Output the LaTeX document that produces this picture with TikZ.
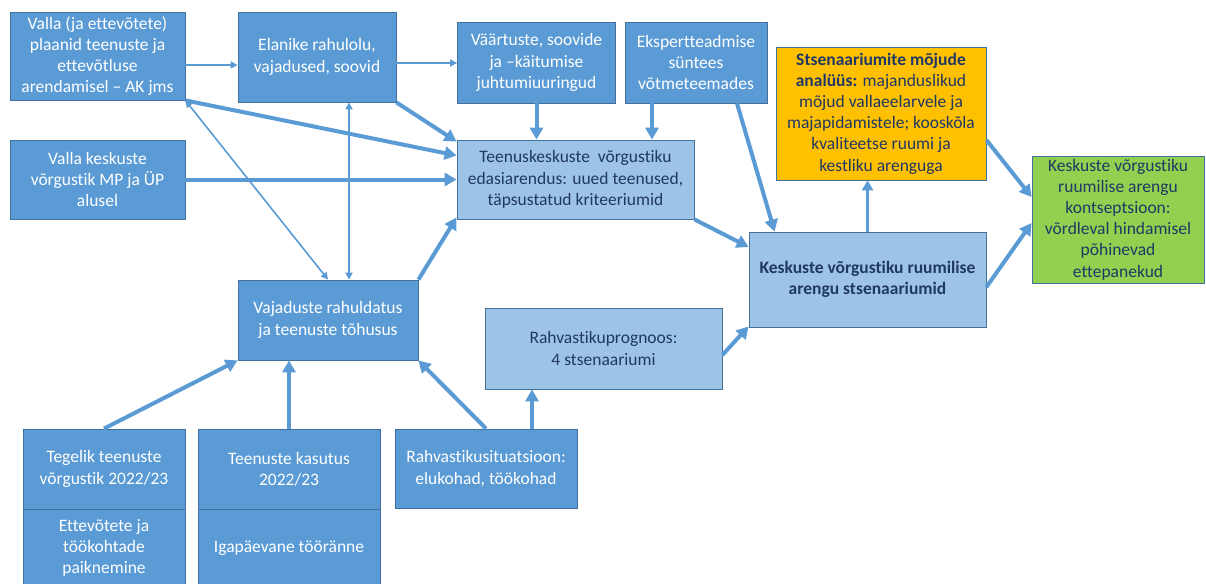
\documentclass[tikz,border=0pt]{standalone}
\usepackage{fontspec}
\setmainfont{Carlito}[Ligatures=NoCommon]
\usetikzlibrary{arrows.meta}
\definecolor{dblue}{HTML}{5B9BD5}
\definecolor{lblue}{HTML}{9DC3E6}
\definecolor{bord}{HTML}{41719C}
\definecolor{navy}{HTML}{1F3864}
\definecolor{orng}{HTML}{FFC000}
\definecolor{grn}{HTML}{92D050}
\definecolor{arr}{HTML}{5B9BD5}
\begin{document}
\begin{tikzpicture}[x=1pt,y=-1pt,
  base/.style={draw=bord, line width=0.8pt, inner sep=0pt, align=center,
    font=\fontsize{17.5}{21.2}\selectfont},
  dbox/.style={base, fill=dblue, text=white},
  lbox/.style={base, fill=lblue, text=navy},
  obox/.style={base, fill=orng, text=navy},
  gbox/.style={base, fill=grn, text=navy},
  thick arrow/.style={draw=arr, line width=4pt, -{Triangle[length=12pt,width=13pt]}},
  mid arrow/.style={draw=arr, line width=3pt, -{Triangle[length=10pt,width=11pt]}},
  thin arrow/.style={draw=arr, line width=1.6pt, -{Triangle[length=7pt,width=7pt]}},
  thin both/.style={draw=arr, line width=1.6pt, {Triangle[length=7pt,width=7pt]}-{Triangle[length=7pt,width=7pt]}}
]
\useasboundingbox (0,0) rectangle (1206,583);
\fill[white] (0,0) rectangle (1206,583);

\node[dbox, minimum width=175, minimum height=88] (A) at (97.5,56)
  {Valla (ja ettevõtete)\\plaanid teenuste ja\\ettevõtluse\\arendamisel -- AK jms};
\node[dbox, minimum width=158, minimum height=90] (B) at (317,57)
  {Elanike rahulolu,\\vajadused, soovid};
\node[dbox, minimum width=158, minimum height=81] (C) at (536.5,62.5)
  {Väärtuste, soovide\\ja --käitumise\\juhtumiuuringud};
\node[dbox, minimum width=142, minimum height=81] (D) at (696,62.5)
  {Ekspertteadmise\\süntees\\võtmeteemades};
\node[obox, minimum width=210, minimum height=133] (E) at (881,113.5)
  {\textbf{Stsenaariumite mõjude}\\\textbf{analüüs:} majanduslikud\\mõjud vallaeelarvele ja\\majapidamistele; kooskõla\\kvaliteetse ruumi ja\\kestliku arenguga};
\node[gbox, minimum width=172, minimum height=127] (F) at (1118,219.5)
  {Keskuste võrgustiku\\ruumilise arengu\\kontseptsioon:\\võrdleval hindamisel\\põhinevad\\ettepanekud};
\node[dbox, minimum width=175, minimum height=79] (G) at (97.5,179.5)
  {Valla keskuste\\võrgustik MP ja ÜP\\alusel};
\node[lbox, minimum width=237, minimum height=79] (H) at (575.5,179.5)
  {Teenuskeskuste\ \ võrgustiku\\edasiarendus: uued teenused,\\täpsustatud kriteeriumid};
\node[lbox, minimum width=237, minimum height=95, font=\fontsize{17.5}{21.2}\selectfont\bfseries] (I) at (867.5,279.5)
  {Keskuste võrgustiku ruumilise\\arengu stsenaariumid};
\node[dbox, minimum width=180, minimum height=80] (J) at (328,320)
  {Vajaduste rahuldatus\\ja teenuste tõhusus};
\node[lbox, minimum width=237, minimum height=81] (K) at (603.5,348.5)
  {Rahvastikuprognoos:\\4 stsenaariumi};
\node[dbox, minimum width=162, minimum height=80] (L1) at (104,469)
  {Tegelik teenuste\\võrgustik 2022/23};
\node[dbox, minimum width=162, minimum height=78] (L2) at (104,548)
  {Ettevõtete ja\\töökohtade\\paiknemine};
\node[dbox, minimum width=182, minimum height=80] (M1) at (289,469)
  {Teenuste kasutus\\2022/23};
\node[dbox, minimum width=182, minimum height=78] (M2) at (289,548)
  {Igapäevane tööränne};
\node[dbox, minimum width=182, minimum height=79] (N) at (486,468.5)
  {Rahvastikusituatsioon:\\elukohad, töökohad};

% thin arrows
\draw[thin arrow] ([yshift=-9]A.east) -- ([yshift=-8]B.west);
\draw[thin arrow] ([yshift=-6]B.east) -- ([yshift=-0.5]C.west);
\draw[thin both] (A.south east) -- (J.north);
\draw[thin both] ([xshift=32]B.south) -- ([xshift=32]B.south |- J.north);

% thick arrows into H
\draw[thick arrow] (A.south east) -- ([yshift=24]H.west);
\draw[thick arrow] (B.south east) -- ([yshift=-2]H.north west);
\draw[thick arrow] (G.east) -- (H.west);
\draw[thick arrow] (J.north east) -- ([yshift=2]H.south west);
\draw[thick arrow] (C.south) -- (C.south |- H.north);
\draw[thick arrow] ([xshift=-44]D.south) -- ([xshift=-44]D.south |- H.north);

% into I
\draw[thick arrow] ([xshift=41]D.south) -- ([xshift=26]I.north west);
\draw[thick arrow] (H.south east) -- ([yshift=32.5]I.west);
\draw[thick arrow] ([yshift=-6.5]K.east) -- ([yshift=1]I.south west);

% I to E, E and I to F
\draw[mid arrow] (I.north) -- (I.north |- E.south);
\draw[thick arrow] ([yshift=-26.5]E.east) -- ([yshift=22.5]F.west);
\draw[thick arrow] ([yshift=-7.5]I.east) -- ([yshift=-3.5]F.west);

% bottom into J and K
\draw[thick arrow] (L1.north) -- (J.south west);
\draw[thick arrow] (M1.north) -- (M1.north |- J.south);
\draw[thick arrow] (N.north) -- (J.south east);
\draw[thick arrow] ([xshift=46]N.north) -- ([xshift=46]N.north |- K.south);
\end{tikzpicture}
\end{document}
